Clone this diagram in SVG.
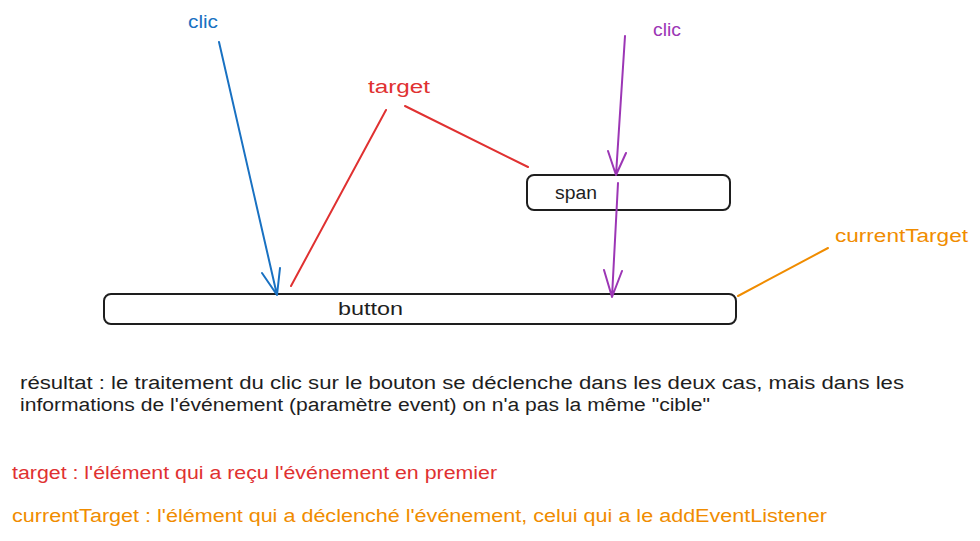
<svg xmlns="http://www.w3.org/2000/svg" width="980" height="541" viewBox="0 0 980 541">
<style>
text{font-family:"Liberation Sans","Open Sans",sans-serif;font-size:18px}
.box{fill:#fff;stroke:#1e1e1e;stroke-width:2}
.blk{fill:#1e1e1e}
.ln{fill:none;stroke-width:2;stroke-linecap:round;stroke-linejoin:round}
.blue{stroke:#1971c2}.red{stroke:#e03131}.pur{stroke:#9c36b5}.ora{stroke:#f08c00}
</style>
<rect width="980" height="541" fill="#fff"/>
<g id="span">
<rect class="box" x="527" y="175" width="203" height="35" rx="7"/>
<text class="blk" x="555" y="199" textLength="42" lengthAdjust="spacingAndGlyphs">span</text>
</g>
<g id="button">
<rect class="box" x="104" y="294" width="632" height="30" rx="7"/>
<text class="blk" x="338" y="315" textLength="65" lengthAdjust="spacingAndGlyphs">button</text>
</g>
<g id="connectors">
<path class="ln blue" d="M219 42 L277 295 M262 273 L277 295 L280 268"/>
<path class="ln red" d="M386 110 L291 286"/>
<path class="ln red" stroke-width="3" d="M405 106 L528 167"/>
<path class="ln pur" stroke-width="2.5" d="M625 36 L616 175 M608 151 L616 175 L626 153"/>
<path class="ln pur" stroke-width="2.5" d="M618 183 L612 297 M604 270 L612 297 L622 271"/>
<path class="ln ora" stroke-width="2.5" d="M738 296 L828 248"/>
</g>
<g id="labels">
<text x="188" y="28" fill="#1971c2" textLength="30" lengthAdjust="spacingAndGlyphs">clic</text>
<text x="368" y="93" fill="#e03131" textLength="62" lengthAdjust="spacingAndGlyphs">target</text>
<text x="653" y="36" fill="#9c36b5" textLength="28" lengthAdjust="spacingAndGlyphs">clic</text>
<text x="835" y="242" fill="#f08c00" textLength="133" lengthAdjust="spacingAndGlyphs">currentTarget</text>
</g>
<g id="notes">
<text class="blk" x="20" y="389" textLength="884" lengthAdjust="spacingAndGlyphs">résultat : le traitement du clic sur le bouton se déclenche dans les deux cas, mais dans les</text>
<text class="blk" x="20" y="411" textLength="690" lengthAdjust="spacingAndGlyphs">informations de l'événement (paramètre event) on n'a pas la même "cible"</text>
<text x="12" y="479" fill="#e03131" textLength="485" lengthAdjust="spacingAndGlyphs">target : l'élément qui a reçu l'événement en premier</text>
<text x="12" y="522" fill="#f08c00" textLength="815" lengthAdjust="spacingAndGlyphs">currentTarget : l'élément qui a déclenché l'événement, celui qui a le addEventListener</text>
</g>
</svg>
